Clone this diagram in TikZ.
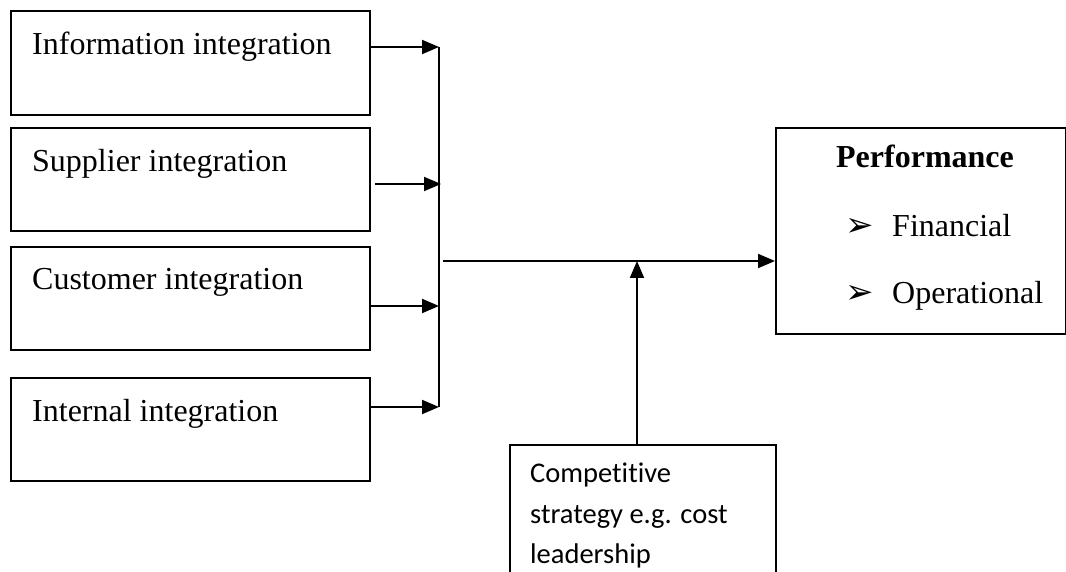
\documentclass[tikz,border=0pt]{standalone}
\usepackage{fontspec}
\setmainfont{Liberation Serif}
\newfontfamily\calib[Ligatures={NoCommon}]{Carlito}
\newfontfamily\dejavu{DejaVu Sans}
\usetikzlibrary{arrows.meta}
\begin{document}
\begin{tikzpicture}[x=1pt,y=-1pt,
  box/.style={draw, line width=2pt, anchor=north west, inner sep=0pt},
  txt/.style={anchor=base west, inner sep=0pt, font=\fontsize{32}{38}\selectfont},
  ctxt/.style={anchor=base west, inner sep=0pt, font=\calib\fontsize{28.5}{34}\selectfont},
  bul/.style={anchor=base west, inner sep=0pt, font=\dejavu\fontsize{34}{40}\selectfont},
  arr/.style={line width=2pt, -{Triangle[length=17pt,width=14pt]}},
  ln/.style={line width=2pt}]
\useasboundingbox (0,0) rectangle (1066,572);
% left boxes
\node[box, minimum width=359pt, minimum height=104pt] (b1) at (10,10) {};
\node[box, minimum width=359pt, minimum height=103pt] (b2) at (10,127) {};
\node[box, minimum width=359pt, minimum height=103pt] (b3) at (10,246) {};
\node[box, minimum width=359pt, minimum height=103pt] (b4) at (10,377) {};
\node[txt] (t1) at (32,55) {Information integration};
\node[txt] (t2) at (32,172) {Supplier integration};
\node[txt] (t3) at (32,290) {Customer integration};
\node[txt] (t4) at (32,421) {Internal integration};
% performance box
\node[box, minimum width=290pt, minimum height=206pt] (perf) at (775,127) {};
\node[anchor=base, inner sep=0pt, font=\bfseries\fontsize{32}{38}\selectfont] (pt) at (925,168) {Performance};
\node[bul] (k1) at (845,237) {➢};
\node[txt] (f1) at (892,237) {Financial};
\node[bul] (k2) at (845,303) {➢};
\node[txt] (f2) at (892,303) {Operational};
% competitive strategy box
\node[box, minimum width=266pt, minimum height=160pt] (comp) at (509,444) {};
\node[ctxt] (c1) at (530,482) {Competitive};
\node[ctxt] (c2) at (530,523) {strategy e.g. cost};
\node[ctxt] (c3) at (530,563) {leadership};
% junctions
\coordinate (j1) at (439,47);
\coordinate (j2) at (441,184);
\coordinate (j3) at (439,306);
\coordinate (j4) at (439,407);
\coordinate (m) at (443,261);
\coordinate (cs) at (637,444);
\coordinate (ce) at (637,261);
% connectors
\draw[arr] (b1.east |- j1) -- (j1);
\draw[arr] ([xshift=4pt]b2.east |- j2) -- (j2);
\draw[arr] (b3.east |- j3) -- (j3);
\draw[arr] (b4.east |- j4) -- (j4);
\draw[ln] (j1) -- (j4);
\draw[arr] (m) -- (perf.west |- m);
\draw[arr] (cs) -- (ce);
\end{tikzpicture}
\end{document}
